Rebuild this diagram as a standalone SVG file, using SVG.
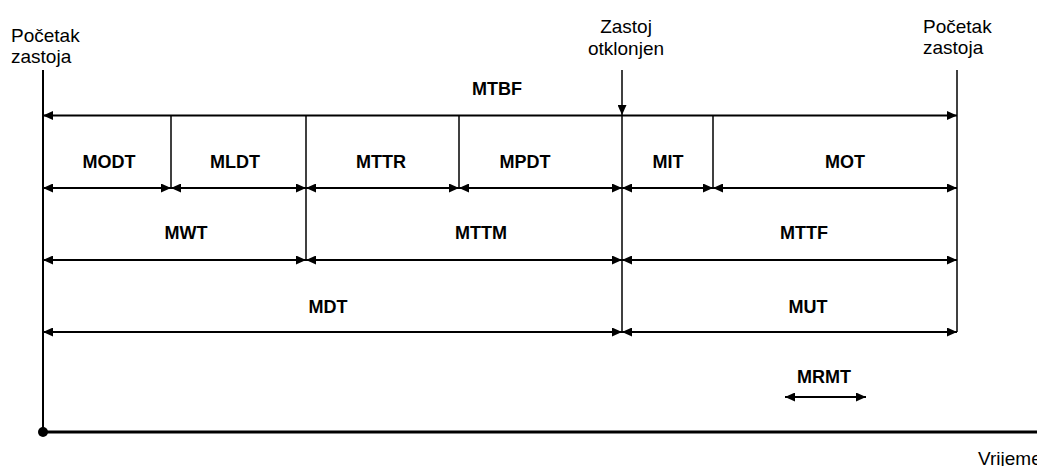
<svg xmlns="http://www.w3.org/2000/svg" width="1037" height="466" viewBox="0 0 1037 466">
<style>
.lbl{font-family:"Liberation Sans",Arial,sans-serif;font-size:19px;fill:#000}
.b{font-family:"Liberation Sans",Arial,sans-serif;font-size:18px;font-weight:bold;fill:#000;text-anchor:middle}
.dim{stroke:#000;stroke-width:2;fill:none;marker-start:url(#ah);marker-end:url(#ah)}
.v{stroke:#000;stroke-width:1.5;fill:none}
</style>
<defs>
<marker id="ah" markerUnits="userSpaceOnUse" markerWidth="10" markerHeight="9" refX="10" refY="4.5" orient="auto-start-reverse">
<path d="M0,0 L10,4.5 L0,9 z" fill="#000"/>
</marker>
<marker id="ahe" markerUnits="userSpaceOnUse" markerWidth="10" markerHeight="9" refX="10" refY="4.5" orient="auto">
<path d="M0,0 L10,4.5 L0,9 z" fill="#000"/>
</marker>
</defs>
<rect width="1037" height="466" fill="#fff"/>
<g id="axes">
<line x1="43" y1="70" x2="43" y2="432" stroke="#000" stroke-width="2"/>
<line x1="43" y1="432" x2="1037" y2="432" stroke="#000" stroke-width="3"/>
<circle cx="43" cy="432" r="5" fill="#000"/>
<line class="v" x1="957" y1="70" x2="957" y2="332"/>
<line class="v" x1="622" y1="115" x2="622" y2="332"/>
<line class="v" x1="171" y1="115" x2="171" y2="188"/>
<line class="v" x1="306" y1="115" x2="306" y2="260"/>
<line class="v" x1="459" y1="115" x2="459" y2="188"/>
<line class="v" x1="713" y1="115" x2="713" y2="188"/>
</g>
<g id="connectors">
<line x1="622" y1="70" x2="622" y2="115" stroke="#000" stroke-width="1.5" marker-end="url(#ahe)"/>
<line class="dim" x1="43" y1="115.5" x2="957" y2="115.5"/>
<line class="dim" x1="43" y1="188" x2="171" y2="188"/>
<line class="dim" x1="171" y1="188" x2="306" y2="188"/>
<line class="dim" x1="306" y1="188" x2="459" y2="188"/>
<line class="dim" x1="459" y1="188" x2="622" y2="188"/>
<line class="dim" x1="622" y1="188" x2="713" y2="188"/>
<line class="dim" x1="713" y1="188" x2="957" y2="188"/>
<line class="dim" x1="43" y1="260" x2="306" y2="260"/>
<line class="dim" x1="306" y1="260" x2="622" y2="260"/>
<line class="dim" x1="622" y1="260" x2="957" y2="260"/>
<line class="dim" x1="43" y1="332" x2="622" y2="332"/>
<line class="dim" x1="622" y1="332" x2="957" y2="332"/>
<line class="dim" x1="785" y1="397" x2="866" y2="397"/>
</g>
<g id="start-label"><text class="lbl" x="11" y="42">Početak</text><text class="lbl" x="11" y="63">zastoja</text></g>
<g id="fixed-label"><text class="lbl" x="626" y="33" text-anchor="middle">Zastoj</text><text class="lbl" x="626" y="55" text-anchor="middle">otklonjen</text></g>
<g id="start-label-2"><text class="lbl" x="923" y="33">Početak</text><text class="lbl" x="923" y="54">zastoja</text></g>
<g id="time-label"><text class="lbl" x="978" y="465">Vrijeme</text></g>
<g id="MTBF"><text class="b" x="497" y="95">MTBF</text></g>
<g id="MODT"><text class="b" x="109" y="168">MODT</text></g>
<g id="MLDT"><text class="b" x="235" y="168">MLDT</text></g>
<g id="MTTR"><text class="b" x="381" y="168">MTTR</text></g>
<g id="MPDT"><text class="b" x="525" y="168">MPDT</text></g>
<g id="MIT"><text class="b" x="668" y="168">MIT</text></g>
<g id="MOT"><text class="b" x="845" y="168">MOT</text></g>
<g id="MWT"><text class="b" x="186" y="239">MWT</text></g>
<g id="MTTM"><text class="b" x="481" y="239">MTTM</text></g>
<g id="MTTF"><text class="b" x="804" y="239">MTTF</text></g>
<g id="MDT"><text class="b" x="328" y="313">MDT</text></g>
<g id="MUT"><text class="b" x="808" y="313">MUT</text></g>
<g id="MRMT"><text class="b" x="824" y="383">MRMT</text></g>
</svg>
